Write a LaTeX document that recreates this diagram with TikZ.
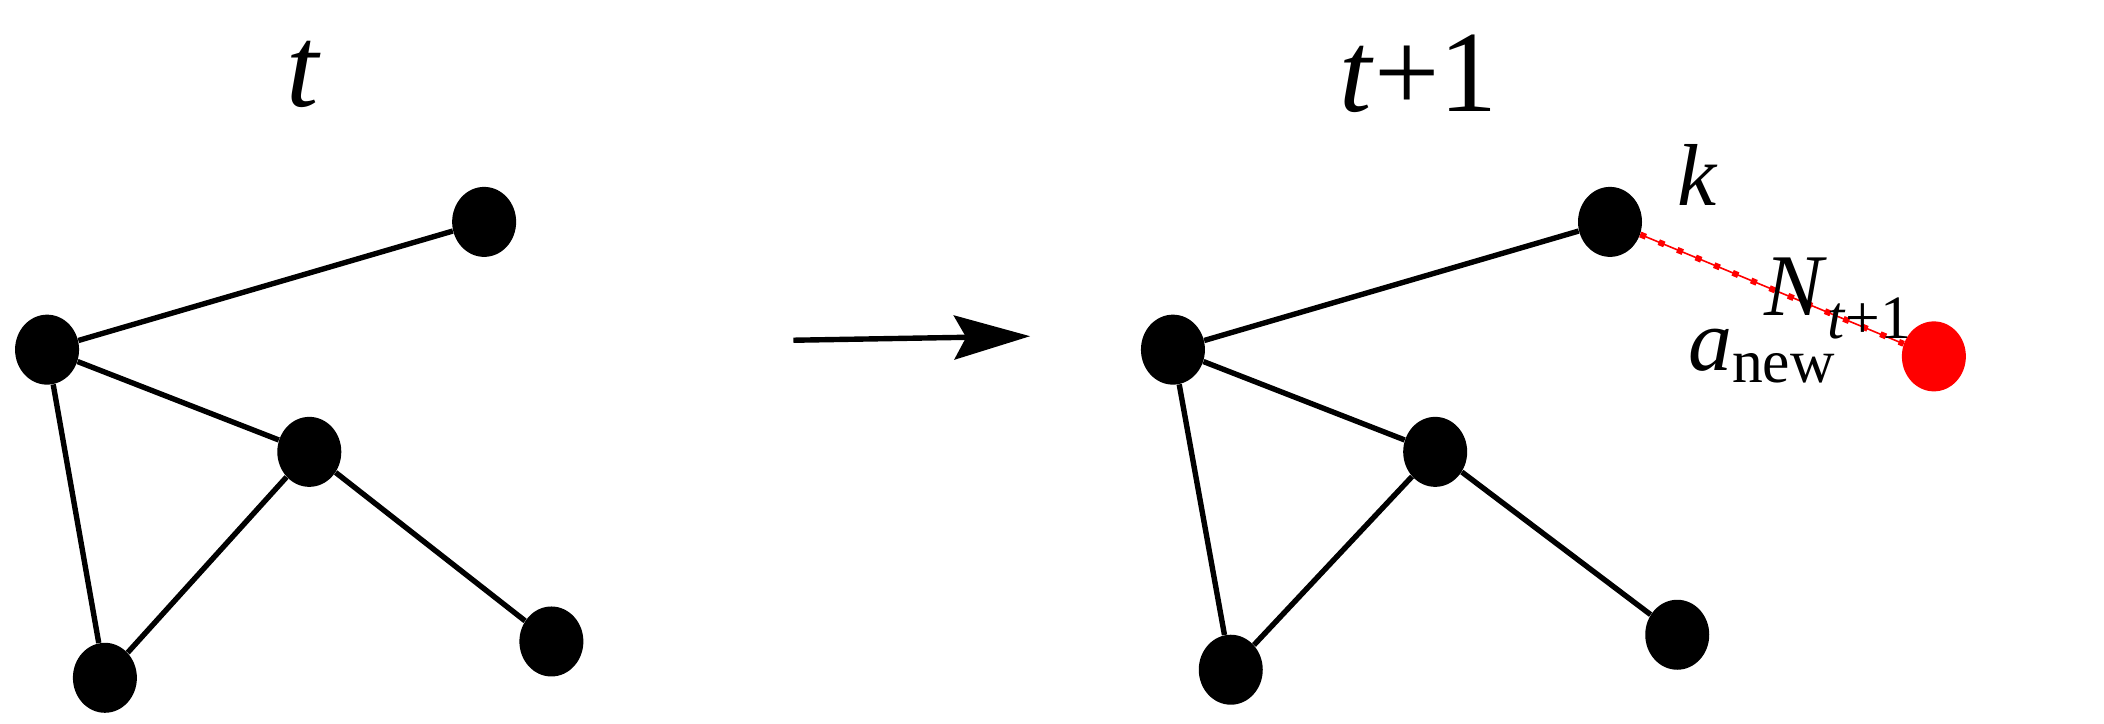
\documentclass[tikz,border=0pt]{standalone}
\usepackage{fontspec}
\setmainfont{Liberation Serif}
\usetikzlibrary{arrows.meta,shapes.geometric}
\begin{document}
\begin{tikzpicture}[x=0.6725pt,y=-0.6725pt,
  vert/.style={ellipse,fill=black,minimum width=32pt,minimum height=35pt,inner sep=0pt},
  newv/.style={vert,fill=red},
  edge/.style={line width=2.7pt},
  lbl/.style={font=\fontsize{44}{48}\selectfont,inner sep=0pt}]
\useasboundingbox (0,0) rectangle (1564.5,538.3);
\node[vert] (a) at (35,260) {};
\node[vert] (b) at (360,165) {};
\node[vert] (c) at (230,336) {};
\node[vert] (d) at (78,504) {};
\node[vert] (e) at (410,477) {};
\draw[edge] (a)--(b) (a)--(c) (a)--(d) (c)--(d) (c)--(e);
\begin{scope}[xshift=563pt]
\node[vert] (a2) at (35,260) {};
\node[vert] (b2) at (360,165) {};
\node[vert] (c2) at (230,336) {};
\node[vert] (d2) at (78,498) {};
\node[vert] (e2) at (410,472) {};
\end{scope}
\draw[edge] (a2)--(b2) (a2)--(c2) (a2)--(d2) (c2)--(d2) (c2)--(e2);
\node[newv] (n) at (1438,265) {};
\draw[red,line width=0.8pt] (b2)--(n);
\draw[red,line width=3pt,dash pattern=on 3pt off 7pt] (b2)--(n);
\node[font=\fontsize{58}{62}\selectfont\itshape] (t) at (225,55) {t};
\node[font=\fontsize{58}{62}\selectfont] (t1) at (1055,55) {\textit{t}+1};
\node[lbl] (k) at (1262,130) {\textit{k}};
\node[lbl,anchor=west] (N) at (1312,222) {\textit{N}\textsubscript{\textit{t}+1}};
\node[lbl,anchor=west] (an) at (1255,265) {\textit{a}\textsubscript{new}};
\coordinate (s) at (590,253);
\coordinate (f) at (766,250);
\draw[line width=2.7pt,-{Stealth[length=38pt,width=22pt,inset=6pt]}] (s)--(f);
\end{tikzpicture}
\end{document}
